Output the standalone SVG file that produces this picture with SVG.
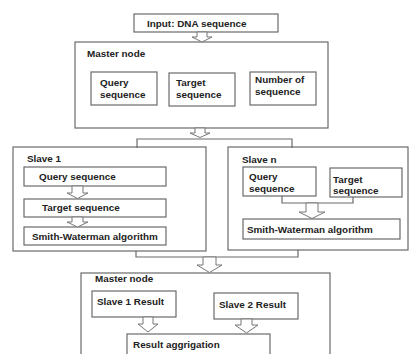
<svg xmlns="http://www.w3.org/2000/svg" width="409" height="354" viewBox="0 0 409 354">
<style>
.b{fill:#fff;stroke:#6a6a6a;stroke-width:1.2}
.t{font-family:"Liberation Sans",Arial,sans-serif;font-weight:bold;font-size:9.9px;fill:#222}
.a{fill:#fff;stroke:#777;stroke-width:1}
.l{fill:none;stroke:#6a6a6a;stroke-width:1.2}
</style>
<rect width="409" height="354" fill="#fff"/>
<g id="input"><rect class="b" x="134" y="14" width="144" height="18"/><text class="t" x="147" y="27">Input: DNA sequence</text></g>
<g id="master1"><rect class="b" x="75" y="42" width="253" height="86"/><text class="t" x="87" y="57">Master node</text></g>
<g id="m-query"><rect class="b" x="91" y="72" width="66" height="33"/><text class="t" x="100" y="86">Query</text><text class="t" x="100" y="98">sequence</text></g>
<g id="m-target"><rect class="b" x="169" y="73" width="66" height="33"/><text class="t" x="176" y="86">Target</text><text class="t" x="176" y="98">sequence</text></g>
<g id="m-number"><rect class="b" x="250" y="72" width="66" height="33"/><text class="t" x="255" y="83">Number of</text><text class="t" x="255" y="95">sequence</text></g>
<g id="slave1"><rect class="b" x="13" y="147" width="193" height="104"/><text class="t" x="27" y="162">Slave 1</text></g>
<g id="s1-query"><rect class="b" x="24" y="167" width="142" height="19"/><text class="t" x="39" y="180">Query sequence</text></g>
<g id="s1-target"><rect class="b" x="24" y="199" width="142" height="18"/><text class="t" x="42" y="211">Target sequence</text></g>
<g id="s1-sw"><rect class="b" x="24" y="227" width="142" height="18"/><text class="t" x="32" y="240">Smith-Waterman algorithm</text></g>
<g id="slaven"><rect class="b" x="228" y="147" width="180" height="103"/><text class="t" x="242" y="163">Slave n</text></g>
<g id="sn-query"><rect class="b" x="243" y="167" width="73" height="29"/><text class="t" x="249" y="180">Query</text><text class="t" x="249" y="192">sequence</text></g>
<g id="sn-target"><rect class="b" x="330" y="168" width="72" height="29"/><text class="t" x="333" y="183">Target</text><text class="t" x="333" y="194">sequence</text></g>
<g id="sn-sw"><rect class="b" x="243" y="219" width="157" height="20"/><text class="t" x="247" y="233">Smith-Waterman algorithm</text></g>
<g id="master2"><rect class="b" x="81" y="273" width="249" height="100"/><text class="t" x="95" y="282">Master node</text></g>
<g id="r1"><rect class="b" x="92" y="291" width="84" height="26"/><text class="t" x="97" y="305">Slave 1 Result</text></g>
<g id="r2"><rect class="b" x="214" y="293" width="84" height="26"/><text class="t" x="219" y="308">Slave 2 Result</text></g>
<g id="agg"><rect class="b" x="127" y="334" width="143" height="30"/><text class="t" x="133" y="348">Result aggrigation</text></g>
<g id="connectors">
<polygon class="a" points="197,32 207,32 207,37 212,37 202,42 192,37 197,37"/>
<polygon class="a" points="195,128 205,128 205,133 210,133 200,137.5 190,133 195,133"/>
<polyline class="l" points="137,148 137,139 292,139 292,148"/>
<polygon class="a" points="72,186 83,186 83,193 88,193 77.5,198.5 67,193 72,193"/>
<polygon class="a" points="72,217 83,217 83,222 88,222 77.5,227 67,222 72,222"/>
<polyline class="l" points="282,196 282,203 353,203 353,197"/>
<polygon class="a" points="306,203 318,203 318,212 325,212 312,218.5 299,212 306,212"/>
<polyline class="l" points="136,251 136,257 298,257 298,250"/>
<polygon class="a" points="203,257 216,257 216,265 222,265 209.5,272.5 197,265 203,265"/>
<polygon class="a" points="143,317 153,317 153,324 158,324 148,332 138,324 143,324"/>
<polygon class="a" points="241,319 252,319 252,325 258,325 246.5,333 235,325 241,325"/>
</g>
</svg>
